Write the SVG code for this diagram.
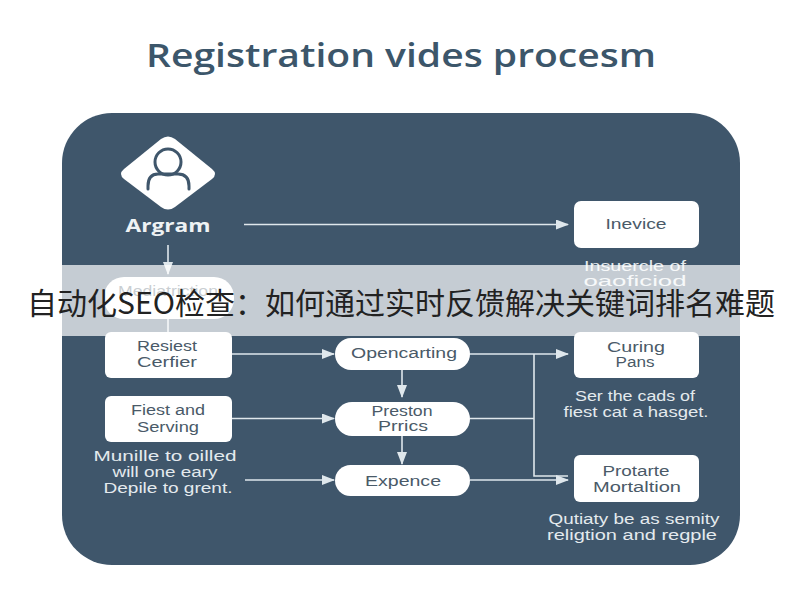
<svg xmlns="http://www.w3.org/2000/svg" width="800" height="600" viewBox="0 0 800 600">
<style>
.f{font-family:"Open Sans","Liberation Sans","Noto Sans",sans-serif}
.n{fill:#fff;stroke:none}
.t{font-family:"Liberation Sans","Noto Sans",sans-serif;font-size:14px;fill:#4a5a68;text-anchor:middle}
.w{font-family:"Liberation Sans","Noto Sans",sans-serif;font-size:14px;fill:#e4eaee;text-anchor:middle}
.c{fill:none;stroke:#dfe7ec;stroke-width:1.6}
</style>
<defs>
<marker id="a" markerWidth="13" markerHeight="10" refX="12" refY="5" orient="auto" markerUnits="userSpaceOnUse"><path d="M0 0L13 5L0 10Z" fill="#dfe7ec"/></marker>
</defs>
<rect width="800" height="600" fill="#fff"/>
<text class="f" x="401" y="67" font-size="33" font-weight="600" fill="#3c566a" text-anchor="middle" textLength="510" lengthAdjust="spacingAndGlyphs">Registration vides procesm</text>
<rect id="panel" x="62" y="113" width="678" height="452" rx="50" fill="#3f566b"/>
<g id="connectors">
<path class="c" d="M244 224.500H568" marker-end="url(#a)"/>
<path class="c" d="M168 245V274" marker-end="url(#a)"/>
<path class="c" d="M168 310V335"/>
<path class="c" d="M231 354H334" marker-end="url(#a)"/>
<path class="c" d="M231 418.500H334" marker-end="url(#a)"/>
<path class="c" d="M245 480H334" marker-end="url(#a)"/>
<path class="c" d="M402 370V397" marker-end="url(#a)"/>
<path class="c" d="M402 436V464" marker-end="url(#a)"/>
<path class="c" d="M470 354H568" marker-end="url(#a)"/>
<path class="c" d="M470 418.500H534"/>
<path class="c" d="M470 480H568" marker-end="url(#a)"/>
<path class="c" d="M534 354V476H568"/>
</g>
<g id="node-argram">
<path class="n" d="M161 139Q168 134 175 139L212 169Q218 174 212 179L175 207Q168 212 161 207L124 179Q118 174 124 169Z"/>
<circle cx="168" cy="162" r="13" fill="none" stroke="#3f566b" stroke-width="3"/>
<path d="M148 189V186Q148 174 158 174H178Q189 174 189 186V189" fill="none" stroke="#3f566b" stroke-width="3" stroke-linecap="round"/>
<text class="f" x="168" y="232" font-size="17" font-weight="700" fill="#eef2f4" text-anchor="middle" textLength="85" lengthAdjust="spacingAndGlyphs">Argram</text>
</g>
<g id="node-medication">
<rect class="n" x="104" y="277" width="130" height="42" rx="20"/>
<text class="t" x="168" y="296" textLength="100" lengthAdjust="spacingAndGlyphs">Mediatriction</text>
</g>
<g id="node-resiest">
<rect class="n" x="105" y="332" width="127" height="46" rx="6"/>
<text class="t" x="167" y="351" textLength="60" lengthAdjust="spacingAndGlyphs">Resiest</text>
<text class="t" x="167" y="367" textLength="60" lengthAdjust="spacingAndGlyphs">Cerfier</text>
</g>
<g id="node-fiest">
<rect class="n" x="105" y="396" width="127" height="46" rx="6"/>
<text class="t" x="168" y="415" textLength="74" lengthAdjust="spacingAndGlyphs">Fiest and</text>
<text class="t" x="168" y="432" textLength="62" lengthAdjust="spacingAndGlyphs">Serving</text>
<text class="w" x="165" y="461" textLength="143" lengthAdjust="spacingAndGlyphs">Munille to oilled</text>
<text class="w" x="165" y="477" textLength="105" lengthAdjust="spacingAndGlyphs">will one eary</text>
<text class="w" x="168" y="493" textLength="129" lengthAdjust="spacingAndGlyphs">Depile to grent.</text>
</g>
<g id="node-invoice">
<rect class="n" x="574" y="201" width="125" height="47" rx="7"/>
<text class="t" x="636" y="229" textLength="61" lengthAdjust="spacingAndGlyphs">Inevice</text>
<text class="w" x="635" y="271" textLength="102" lengthAdjust="spacingAndGlyphs">Insuercle of</text>
<text class="w" x="635" y="286" font-size="13" textLength="103" lengthAdjust="spacingAndGlyphs">oaoficiod</text>
</g>
<g id="node-opencarting">
<rect class="n" x="335" y="338" width="135" height="32" rx="16"/>
<text class="t" x="404" y="358" textLength="106" lengthAdjust="spacingAndGlyphs">Opencarting</text>
</g>
<g id="node-preston">
<rect class="n" x="335" y="402" width="135" height="34" rx="17"/>
<text class="t" x="402" y="416" textLength="61" lengthAdjust="spacingAndGlyphs">Preston</text>
<text class="t" x="403" y="431" textLength="50" lengthAdjust="spacingAndGlyphs">Prrics</text>
</g>
<g id="node-expence">
<rect class="n" x="335" y="465" width="135" height="31" rx="15.500"/>
<text class="t" x="403" y="486" textLength="76" lengthAdjust="spacingAndGlyphs">Expence</text>
</g>
<g id="node-curing">
<rect class="n" x="574" y="332" width="125" height="46" rx="6"/>
<text class="t" x="636" y="352" textLength="58" lengthAdjust="spacingAndGlyphs">Curing</text>
<text class="t" x="635" y="367" textLength="39" lengthAdjust="spacingAndGlyphs">Pans</text>
<text class="w" x="635" y="401" textLength="120" lengthAdjust="spacingAndGlyphs">Ser the cads of</text>
<text class="w" x="636" y="417" textLength="145" lengthAdjust="spacingAndGlyphs">fiest cat a hasget.</text>
</g>
<g id="node-protarte">
<rect class="n" x="574" y="455" width="125" height="47" rx="6"/>
<text class="t" x="636" y="476" textLength="67" lengthAdjust="spacingAndGlyphs">Protarte</text>
<text class="t" x="637" y="492" textLength="88" lengthAdjust="spacingAndGlyphs">Mortaltion</text>
<text class="w" x="634" y="524" textLength="171" lengthAdjust="spacingAndGlyphs">Qutiaty be as semity</text>
<text class="w" x="632" y="540" textLength="170" lengthAdjust="spacingAndGlyphs">religtion and regple</text>
</g>
<g id="banner">
<rect x="0" y="265" width="800" height="71" fill="#fff" fill-opacity=".7"/>
<text x="401" y="314" font-size="30" fill="#222" text-anchor="middle" font-family="'Noto Sans CJK SC','Liberation Sans',sans-serif">自动化SEO检查：如何通过实时反馈解决关键词排名难题</text>
</g>
</svg>
